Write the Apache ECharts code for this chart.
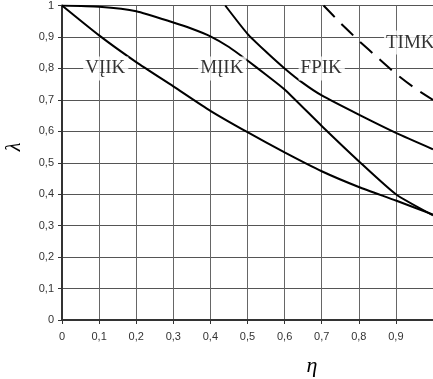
<!DOCTYPE html>
<html>
<head>
<meta charset="utf-8">
<script src="https://cdn.jsdelivr.net/npm/echarts@6/dist/echarts.min.js"></script>
<style>
  html, body { margin: 0; padding: 0; background: #fff; }
  #chart { width: 433px; height: 379px; }
</style>
</head>
<body>
<div id="chart"></div>
<script>
// tick labels (comma decimals)
const xTicks = ["0", "0,1", "0,2", "0,3", "0,4", "0,5", "0,6", "0,7", "0,8", "0,9", "1"];
const yTicks = ["0", "0,1", "0,2", "0,3", "0,4", "0,5", "0,6", "0,7", "0,8", "0,9", "1"];

// VĮIK - lower curve
const etaV = [0, 0.1, 0.2, 0.3, 0.4, 0.5, 0.6, 0.7, 0.8, 0.9, 1.0];
const lamV = [1, 0.905, 0.82, 0.743, 0.665, 0.597, 0.533, 0.473, 0.423, 0.38, 0.335];

// MĮIK - flat at first, then steep
const etaM = [0, 0.1, 0.2, 0.3, 0.35, 0.4, 0.45, 0.5, 0.55, 0.6, 0.7, 0.8, 0.9, 1.0];
const lamM = [1, 0.996, 0.982, 0.946, 0.926, 0.902, 0.868, 0.825, 0.78, 0.733, 0.617, 0.505, 0.4, 0.333];

// FPIK
const etaF = [0.44, 0.5, 0.55, 0.6, 0.65, 0.7, 0.8, 0.9, 1.0];
const lamF = [1.0, 0.91, 0.853, 0.8, 0.753, 0.714, 0.653, 0.595, 0.543];

// TIMK - dashed
const etaT = [0.705, 0.75, 0.8, 0.85, 0.9, 0.95, 1.0];
const lamT = [1.0, 0.945, 0.888, 0.835, 0.783, 0.738, 0.7];

// curve labels
const labelNames = ["VĮIK", "MĮIK", "FPIK", "TIMK"];
const labelEta = [0.118, 0.432, 0.7, 0.94];
const labelLam = [0.8, 0.8, 0.8, 0.882];

function pairs(xs, ys) {
  return xs.map((x, i) => [x, ys[i]]);
}

const chart = echarts.init(document.getElementById("chart"), null, { renderer: "canvas" });

function curve(name, xs, ys, dash) {
  return {
    name: name,
    type: "line",
    data: pairs(xs, ys),
    smooth: 0.2,
    showSymbol: false,
    lineStyle: { color: "#000", width: 2, type: dash || "solid" }
  };
}

const option = {
  animation: false,
  backgroundColor: "#fff",
  grid: { left: 62, top: 5, width: 375, height: 315 },
  xAxis: {
    type: "value",
    min: 0,
    max: 1,
    interval: 0.1,
    axisLine: { show: true, onZero: false, lineStyle: { color: "#333", width: 2 } },
    axisTick: { show: true, length: 4, lineStyle: { color: "#333" } },
    axisLabel: {
      margin: 11,
      fontSize: 11,
      fontFamily: "Liberation Sans",
      color: "#333",
      showMaxLabel: false,
      formatter: v => xTicks[Math.round(v * 10)]
    },
    splitLine: { show: true, lineStyle: { color: "#666", width: 1 } }
  },
  yAxis: {
    type: "value",
    min: 0,
    max: 1,
    interval: 0.1,
    axisLine: { show: true, onZero: false, lineStyle: { color: "#333", width: 2 } },
    axisTick: { show: true, length: 4, lineStyle: { color: "#333" } },
    axisLabel: {
      margin: 8,
      fontSize: 11,
      fontFamily: "Liberation Sans",
      color: "#333",
      formatter: v => yTicks[Math.round(v * 10)]
    },
    splitLine: { show: true, lineStyle: { color: "#555", width: 1 } }
  },
  series: [
    curve("VĮIK", etaV, lamV),
    curve("MĮIK", etaM, lamM),
    curve("FPIK", etaF, lamF),
    curve("TIMK", etaT, lamT, [16, 10]),
    {
      // curve names in white boxes
      type: "scatter",
      z: 5,
      symbol: "rect",
      symbolSize: 1,
      itemStyle: { color: "rgba(0,0,0,0)" },
      data: labelNames.map((n, i) => [labelEta[i], labelLam[i], n]),
      label: {
        show: true,
        position: "inside",
        formatter: p => p.data[2],
        fontFamily: "Liberation Serif",
        fontSize: 19,
        color: "#000",
        backgroundColor: "#fff",
        padding: [3, 3, 2, 2]
      }
    }
  ],
  graphic: [
    {
      type: "text",
      x: 15,
      y: 147,
      rotation: Math.PI / 2,
      style: {
        text: "λ",
        font: "italic 20px 'Liberation Serif'",
        fill: "#000",
        align: "center",
        verticalAlign: "middle"
      }
    },
    {
      type: "text",
      x: 312,
      y: 366,
      style: {
        text: "η",
        font: "italic 22px 'Liberation Serif'",
        fill: "#000",
        align: "center",
        verticalAlign: "middle"
      }
    }
  ]
};

chart.setOption(option);
</script>
</body>
</html>
